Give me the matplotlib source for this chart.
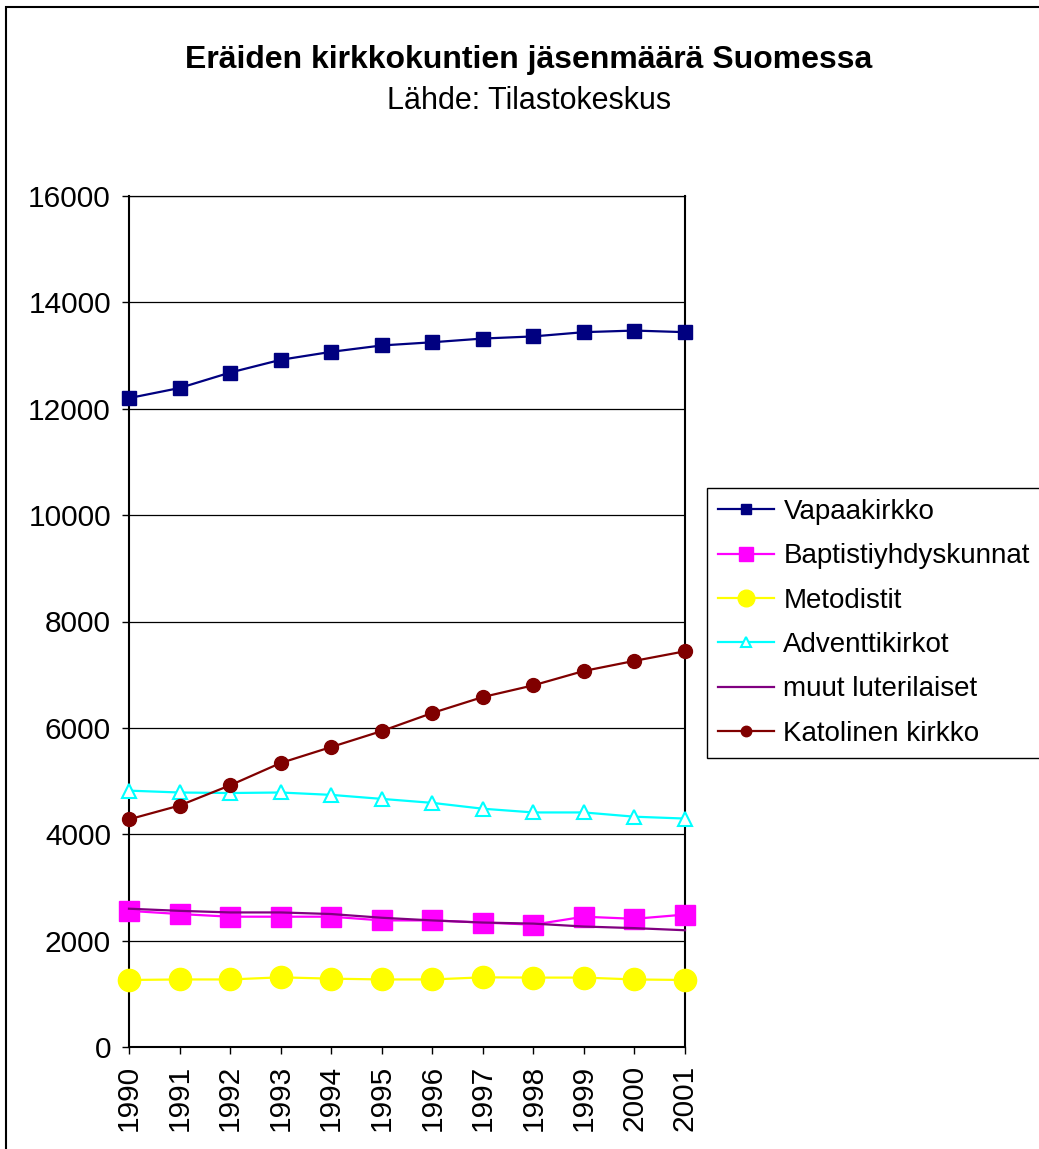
import matplotlib.pyplot as plt
import matplotlib.patches as mpatches

plt.rcParams["font.family"] = ["Liberation Sans", "DejaVu Sans"]

years = [1990, 1991, 1992, 1993, 1994, 1995, 1996, 1997, 1998, 1999, 2000, 2001]

vapaakirkko = [12200, 12390, 12680, 12920, 13070, 13190, 13250, 13320, 13360, 13440, 13470, 13440]
baptisti = [2560, 2500, 2450, 2450, 2450, 2380, 2380, 2340, 2300, 2450, 2410, 2490]
metodistit = [1260, 1270, 1270, 1310, 1285, 1270, 1270, 1310, 1305, 1305, 1270, 1260]
adventti = [4820, 4785, 4775, 4785, 4740, 4665, 4590, 4480, 4410, 4410, 4330, 4295]
muut_luterilaiset = [2600, 2560, 2530, 2530, 2500, 2430, 2380, 2340, 2320, 2265, 2235, 2195]
katolinen = [4280, 4540, 4920, 5340, 5640, 5940, 6280, 6580, 6800, 7070, 7260, 7440]

fig = plt.figure(figsize=(10.39, 11.49), dpi=100)
ax = fig.add_axes([129 / 1039, 1 - 1047 / 1149, (685 - 129) / 1039, (1047 - 196) / 1149])

# outer chart frame (cut off at right and bottom like the original)
fig.patches.append(mpatches.Rectangle((6 / 1039, -0.1), 2, 1.1 - 7 / 1149,
                                      transform=fig.transFigure, fill=False,
                                      edgecolor="black", linewidth=1.5))

ax.plot(years, vapaakirkko, "s-", color="#000080", lw=1.6, ms=10,
        label="Vapaakirkko", clip_on=False, zorder=3)
ax.plot(years, baptisti, "s-", color="#FF00FF", lw=1.6, ms=14,
        label="Baptistiyhdyskunnat", clip_on=False, zorder=3)
ax.plot(years, metodistit, "o-", color="#FFFF00", lw=1.6, ms=16,
        label="Metodistit", clip_on=False, zorder=3)
ax.plot(years, adventti, "^-", color="#00FFFF", lw=1.6, ms=10, mfc="white",
        mec="#00FFFF", mew=1.5, label="Adventtikirkot", clip_on=False, zorder=3)
ax.plot(years, muut_luterilaiset, "-", color="#800080", lw=1.6,
        label="muut luterilaiset", clip_on=False, zorder=3)
ax.plot(years, katolinen, "o-", color="#800000", lw=1.6, ms=10,
        label="Katolinen kirkko", clip_on=False, zorder=3)

ax.set_xlim(1990, 2001)
ax.set_ylim(0, 16000)
ax.set_xticks(years)
ax.set_xticklabels([str(y) for y in years], rotation=90)
ax.set_yticks(range(0, 16001, 2000))
ax.tick_params(axis="both", direction="out", length=5, width=1, labelsize=21.5, pad=8)
ax.yaxis.grid(True, color="black", linewidth=0.9)
ax.set_axisbelow(True)
for side in ["left", "bottom", "right"]:
    ax.spines[side].set_linewidth(1.5)
ax.spines["top"].set_linewidth(0.9)

fig.text(529 / 1039, 1 - 60 / 1149, "Eräiden kirkkokuntien jäsenmäärä Suomessa",
         ha="center", va="center", fontsize=23, fontweight="bold")
fig.text(529 / 1039, 1 - 101 / 1149, "Lähde: Tilastokeskus",
         ha="center", va="center", fontsize=22)

leg = ax.legend(loc="upper left", bbox_to_anchor=(707 / 1039, 1 - 488 / 1149),
                bbox_transform=fig.transFigure, fontsize=20, frameon=True,
                fancybox=False, edgecolor="black", framealpha=1,
                handlelength=2.0, handletextpad=0.35, borderpad=0.4,
                labelspacing=0.66, borderaxespad=0, markerscale=0.75)
leg.get_frame().set_linewidth(1.0)

fig.savefig("out.png", dpi=100)
